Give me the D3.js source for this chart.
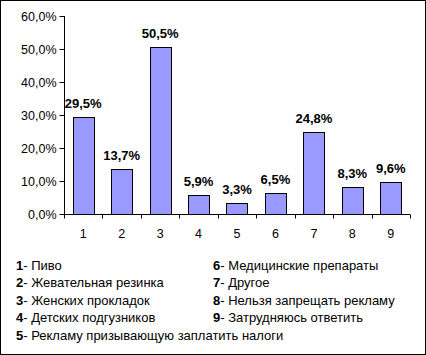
<!DOCTYPE html>
<html><head><meta charset="utf-8">
<script src="https://cdn.jsdelivr.net/npm/d3@7"></script>
<style>body{margin:0;background:#fff}svg{display:block;font-family:Arial,"Liberation Sans",sans-serif}</style>
</head><body>
<script>
const categories = ["1","2","3","4","5","6","7","8","9"];
const values = [29.5, 13.7, 50.5, 5.9, 3.3, 6.5, 24.8, 8.3, 9.6];
const valueLabels = ["29,5%","13,7%","50,5%","5,9%","3,3%","6,5%","24,8%","8,3%","9,6%"];
const yTicks = [0,10,20,30,40,50,60];
const legendNums = ["1","2","3","4","5","6","7","8","9"];
const legendTexts = ["Пиво","Жевательная резинка","Женских прокладок","Детских подгузников","Рекламу призывающую заплатить налоги","Медицинские препараты","Другое","Нельзя запрещать рекламу","Затрудняюсь ответить"];

const W=426,H=355;
const svg=d3.select("body").append("svg").attr("width",W).attr("height",H);
svg.append("rect").attr("x",0.5).attr("y",0.5).attr("width",W-1).attr("height",H-1).attr("fill","#fff").attr("stroke","#000");

const x=d3.scaleBand().domain(categories).range([64,410]).paddingInner(0.45).paddingOuter(0.225);
const y=d3.scaleLinear().domain([0,60]).range([214,16]);

// y axis
const ya=svg.append("g").attr("transform","translate(64.5,0)")
 .call(d3.axisLeft(y).tickValues(yTicks).tickSize(5).tickPadding(3).tickFormat(d=>d.toFixed(1).replace(".",",")+"%"));
ya.select(".domain").attr("stroke","#000").attr("d","M0,"+y(60)+"V"+y(0));
ya.selectAll("text").attr("font-size",12.5).attr("fill","#000").attr("font-family","Arial,'Liberation Sans',sans-serif");
ya.selectAll("line").attr("stroke","#000");

// x axis
const xa=svg.append("g").attr("transform","translate(0,214.5)");
xa.append("line").attr("x1",64).attr("x2",410).attr("stroke","#000");
const step=x.step();
d3.range(categories.length+1).forEach(i=>{
  const px=Math.round(64+i*step)+0.5;
  xa.append("line").attr("x1",px).attr("x2",px).attr("y1",0).attr("y2",4).attr("stroke","#000");
});
xa.selectAll("text.cat").data(categories).join("text").attr("class","cat")
 .attr("x",d=>x(d)+x.bandwidth()/2).attr("y",23).attr("text-anchor","middle")
 .attr("font-size",12.5).text(d=>d);

// bars
svg.selectAll("rect.bar").data(values).join("rect").attr("class","bar")
 .attr("x",(d,i)=>Math.round(x(categories[i]))+0.5).attr("y",d=>Math.round(y(d))+0.5)
 .attr("width",Math.round(x.bandwidth())).attr("height",d=>Math.round(y(0))-Math.round(y(d)))
 .attr("fill","#9999FF").attr("stroke","#000");

// value labels
svg.selectAll("text.val").data(values).join("text").attr("class","val")
 .attr("x",(d,i)=>x(categories[i])+x.bandwidth()/2).attr("y",d=>y(d)-9)
 .attr("text-anchor","middle").attr("font-size",13).attr("font-weight","bold").text((d,i)=>valueLabels[i]);

// legend
const leg=svg.append("g").attr("font-size",13);
legendNums.forEach((n,i)=>{
  const col=i<5?0:1, row=i<5?i:i-5;
  const t=leg.append("text").attr("x",col?213:16).attr("y",269.5+row*17.5);
  t.append("tspan").attr("font-weight","bold").text(n);
  t.append("tspan").text("- "+legendTexts[i]);
});
</script>
</body></html>
